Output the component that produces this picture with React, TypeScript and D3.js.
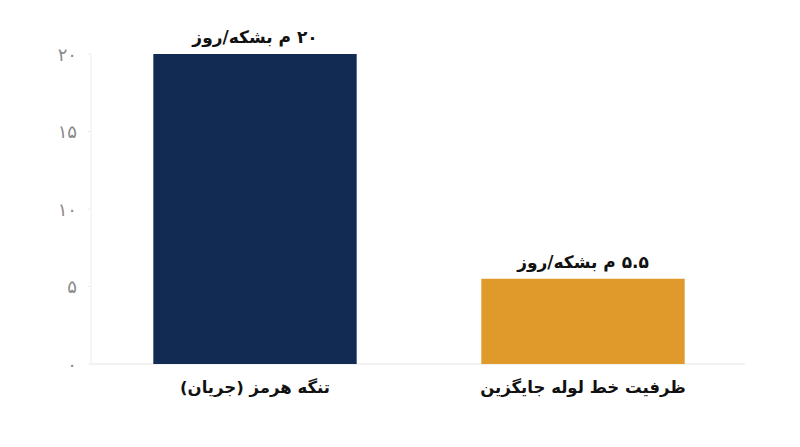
import * as React from "react";
import * as d3 from "d3";

// Persian chart: Hormuz strait flow vs. bypass pipeline capacity (million barrels/day)
const categories = ["تنگه هرمز (جریان)", "ظرفیت خط لوله جایگزین"];
const values = [20, 5.5];
const valueLabels = ["۲۰ م بشکه/روز", "۵.۵ م بشکه/روز"];
const barColors = ["#122b53", "#e0992b"];
const yTicks = [0, 5, 10, 15, 20];
const yTickLabels = ["۰", "۵", "۱۰", "۱۵", "۲۰"];

const W = 800;
const H = 447;
const FONT = "'DejaVu Sans', 'Noto Sans', sans-serif";

export default function App() {
  const x = d3.scaleBand<string>().domain(categories).range([91, 747]).paddingInner(0.38).paddingOuter(0.19);
  const y = d3.scaleLinear().domain([0, 20]).range([364, 54]);

  return (
    <svg
      width={W}
      height={H}
      viewBox={`0 0 ${W} ${H}`}
      style={{ position: "absolute", left: 0, top: 0, background: "#fff" }}
    >
      {/* axis line + baseline */}
      <line x1={91} x2={91} y1={y(20)} y2={y(0)} stroke="#ececec" strokeWidth={1} />
      <line x1={91} x2={745} y1={y(0)} y2={y(0)} stroke="#e6e6e6" strokeWidth={1} />

      {yTicks.map((t, i) => (
        <g key={t}>
          <line x1={88} x2={91} y1={y(t)} y2={y(t)} stroke="#ececec" />
          <text
            x={77}
            y={y(t)}
            textAnchor="end"
            dominantBaseline="central"
            fontFamily={FONT}
            fontSize={18}
            fill="#8a8a8a"
          >
            {yTickLabels[i]}
          </text>
        </g>
      ))}

      {categories.map((c, i) => {
        const bx = x(c) ?? 0;
        const cx = bx + x.bandwidth() / 2;
        return (
          <g key={c}>
            <rect x={bx} y={y(values[i])} width={x.bandwidth()} height={y(0) - y(values[i])} fill={barColors[i]} />
            <text
              x={cx}
              y={y(values[i]) - 17}
              textAnchor="middle"
              dominantBaseline="central"
              direction="rtl"
              fontFamily={FONT}
              fontWeight="bold"
              fontSize={17}
              fill="#111"
            >
              {valueLabels[i]}
            </text>
            <text
              x={cx}
              y={387}
              textAnchor="middle"
              dominantBaseline="central"
              direction="rtl"
              fontFamily={FONT}
              fontWeight="bold"
              fontSize={16.5}
              fill="#111"
            >
              {c}
            </text>
          </g>
        );
      })}
    </svg>
  );
}
